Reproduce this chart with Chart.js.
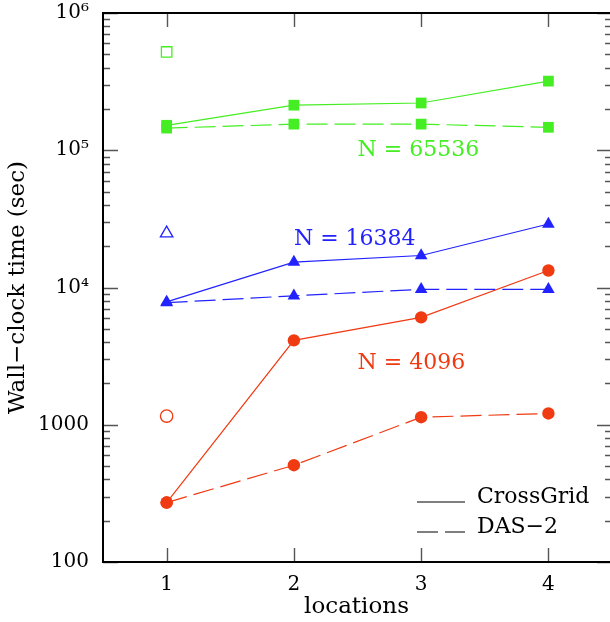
<!DOCTYPE html>
<html>
<head>
<meta charset="utf-8">
<script src="https://cdn.jsdelivr.net/npm/chart.js@4/dist/chart.umd.min.js"></script>
<style>
  html, body { margin: 0; padding: 0; background: #fff; }
  canvas { display: block; }
</style>
</head>
<body>
<canvas id="wallClock" width="610" height="622"></canvas>
<script>
'use strict';

// --- data ---
const locations = [1, 2, 3, 4];

const cross65536 = [152000, 213000, 221000, 319000];
const das65536   = [145000, 155000, 155000, 147000];
const cross16384 = [7850, 15300, 17100, 29000];
const das16384   = [7750, 8700, 9700, 9700];
const cross4096  = [271, 4120, 6060, 13300];
const das4096    = [271, 507, 1135, 1208];

// single open markers at location 1
const openLoc    = 1;
const open65536  = 520000;
const open16384  = 24800;
const open4096   = 1157;

const xTickValues = [1, 2, 3, 4];
const xFrame      = [0.5, 4.5];    // plot box; the right edge falls just past the picture
const yDecades    = [100, 1000, 1e4, 1e5, 1e6];
const yLabels     = { 100: '100', 1000: '1000', 10000: '10⁴', 100000: '10⁵', 1000000: '10⁶' };

const seriesNames = ['N = 65536', 'N = 16384', 'N = 4096'];
const nameX       = [2.5, 2.0, 2.5];
const nameY       = [100000, 22300, 2820];

const GREEN = '#44ee22';
const BLUE  = '#2222ff';
const RED   = '#f03a12';
const SERIF = '"DejaVu Serif", serif';
const DASH  = [21, 7];

const pts = vals => vals.map((v, i) => ({ x: locations[i], y: v }));

function lineSet(label, vals, color, style, radius, dashed) {
  return {
    label,
    data: pts(vals),
    borderColor: color,
    backgroundColor: color,
    borderWidth: 1.2,
    borderDash: dashed ? DASH : [],
    pointStyle: style,
    pointRadius: radius,
    pointBorderWidth: 0,
    pointBackgroundColor: color,
    tension: 0,
    fill: false,
  };
}

function openSet(label, val, color, style, radius) {
  return {
    label,
    data: [{ x: openLoc, y: val }],
    showLine: false,
    borderColor: color,
    backgroundColor: 'rgba(0,0,0,0)',
    pointStyle: style,
    pointRadius: radius,
    pointBorderWidth: 1.3,
    pointBorderColor: color,
    pointBackgroundColor: 'rgba(0,0,0,0)',
  };
}

// scales keep no extra room for their edge labels
function noEdgePadding(s) {
  s.paddingTop = 0; s.paddingBottom = 0; s.paddingLeft = 0; s.paddingRight = 0;
}

// --- frame, inside ticks, labels and legend ---
const decorations = {
  id: 'decorations',
  afterDraw(chart) {
    const { ctx, chartArea: a, scales: { x, y } } = chart;
    const left = x.getPixelForValue(xFrame[0]);
    const right = x.getPixelForValue(xFrame[1]);
    ctx.save();

    // ticks
    ctx.strokeStyle = '#555';
    ctx.lineWidth = 1.4;
    ctx.beginPath();
    for (const v of xTickValues) {
      const px = Math.round(x.getPixelForValue(v)) + 0.5;
      ctx.moveTo(px, a.bottom); ctx.lineTo(px, a.bottom - 14);
      ctx.moveTo(px, a.top);    ctx.lineTo(px, a.top + 14);
    }
    for (const d of yDecades) {
      for (let m = 1; m < 10; m++) {
        const v = d * m;
        if (v > 1e6) break;
        const py = Math.round(y.getPixelForValue(v)) + 0.5;
        const len = m === 1 ? 15 : 7;
        ctx.moveTo(left, py);  ctx.lineTo(left + len, py);
        ctx.moveTo(right, py); ctx.lineTo(right - len, py);
      }
    }
    ctx.stroke();

    // frame
    ctx.strokeStyle = '#000';
    ctx.lineWidth = 2;
    ctx.strokeRect(left, a.top, right - left, a.bottom - a.top);

    // series names
    ctx.font = '22px ' + SERIF;
    ctx.textAlign = 'left';
    ctx.textBaseline = 'middle';
    [GREEN, BLUE, RED].forEach((c, i) => {
      ctx.fillStyle = c;
      ctx.fillText(seriesNames[i], x.getPixelForValue(nameX[i]), y.getPixelForValue(nameY[i]));
    });

    // legend
    ctx.strokeStyle = '#000';
    ctx.lineWidth = 1.2;
    ctx.beginPath();
    ctx.moveTo(417, 502); ctx.lineTo(465, 502);
    ctx.stroke();
    ctx.setLineDash(DASH);
    ctx.beginPath();
    ctx.moveTo(417, 532); ctx.lineTo(465, 532);
    ctx.stroke();
    ctx.setLineDash([]);
    ctx.fillStyle = '#000';
    ctx.fillText('CrossGrid', 477, 497);
    ctx.fillText('DAS−2', 477, 527);

    ctx.restore();
  },
};

new Chart(document.getElementById('wallClock'), {
  type: 'line',
  data: {
    datasets: [
      lineSet('CrossGrid N=65536', cross65536, GREEN, 'rect', 7.6, false),
      lineSet('DAS-2 N=65536', das65536, GREEN, 'rect', 7.6, true),
      lineSet('CrossGrid N=16384', cross16384, BLUE, 'triangle', 7.3, false),
      lineSet('DAS-2 N=16384', das16384, BLUE, 'triangle', 7.3, true),
      lineSet('CrossGrid N=4096', cross4096, RED, 'circle', 6.2, false),
      lineSet('DAS-2 N=4096', das4096, RED, 'circle', 6.2, true),
      openSet('open N=65536', open65536, GREEN, 'rect', 7.4),
      openSet('open N=16384', open16384, BLUE, 'triangle', 7.2),
      openSet('open N=4096', open4096, RED, 'circle', 6.2),
    ],
  },
  options: {
    responsive: false,
    animation: false,
    devicePixelRatio: 1,
    layout: { autoPadding: false, padding: { top: 13, right: 0, left: 0, bottom: 0 } },
    plugins: { legend: { display: false }, tooltip: { enabled: false } },
    scales: {
      x: {
        type: 'linear',
        min: 0.5,
        max: 4.484,
        grid: { display: false, drawTicks: false },
        border: { display: false },
        afterBuildTicks: s => { s.ticks = xTickValues.map(v => ({ value: v })); },
        afterFit: s => { s.height = 60; noEdgePadding(s); },
        ticks: { font: { family: SERIF, size: 20 }, color: '#000', padding: 11, autoSkip: false },
        title: {
          display: true, text: 'locations', color: '#000',
          font: { family: SERIF, size: 23 }, padding: { top: 1, bottom: 1 },
        },
      },
      y: {
        type: 'logarithmic',
        min: 100,
        max: 1e6,
        grid: { display: false, drawTicks: false },
        border: { display: false },
        afterBuildTicks: s => { s.ticks = yDecades.map(v => ({ value: v })); },
        afterFit: s => { s.width = 103; noEdgePadding(s); },
        ticks: {
          font: { family: SERIF, size: 20 }, color: '#000', padding: 14, autoSkip: false,
          callback: v => yLabels[v] ?? '',
        },
        title: {
          display: true, text: 'Wall−clock time (sec)', color: '#000',
          font: { family: SERIF, size: 23 }, padding: { top: 4, bottom: 4 },
        },
      },
    },
  },
  plugins: [decorations],
});
</script>
</body>
</html>
